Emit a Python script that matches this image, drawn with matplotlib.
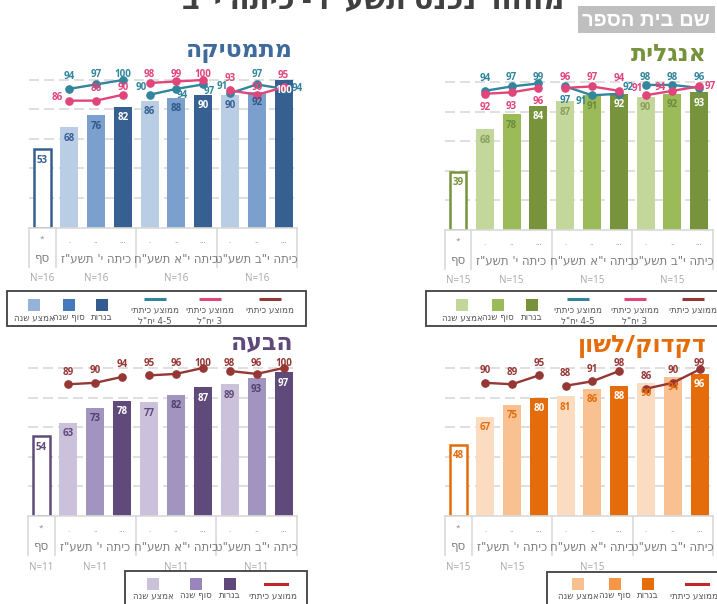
import re
import matplotlib
matplotlib.use('Agg')
import matplotlib.pyplot as plt
from matplotlib.patches import Rectangle

plt.rcParams['font.family'] = ['Open Sans', 'DejaVu Sans']
HEB = ['DejaVu Sans']

W, H = 717, 604

# ---------------- data ----------------
page_title = 'מחזור נכנס תשע"ז - כיתה י"ב'
school_name = 'שם בית הספר'
categories = ['סף', 'כיתה י\' תשע"ז', 'כיתה י"א תשע"ח', 'כיתה י"ב תשע"ט']
sub_marks = ['*', '.', '..', '...', '.', '..', '...', '.', '..', '...']
bar_legend = ['אמצע שנה', 'סוף שנה', 'בנרות']
line_legend_45 = 'ממוצע כיתתי\n4-5 יח"ל'
line_legend_3 = 'ממוצע כיתתי\n3 יח"ל'
line_legend_all = 'ממוצע כיתתי'

math_title = 'מתמטיקה'
math_bars = [53, 68, 76, 82, 86, 88, 90, 90, 92, 100]
math_avg_45 = [94, 97, 100, 90, 94, 97, 91, 97, 94]
math_avg_3 = [86, 86, 90, 98, 99, 100, 93, 90, 95]
math_n = ['N=16', 'N=16', 'N=16', 'N=16']

eng_title = 'אנגלית'
eng_bars = [39, 68, 78, 84, 87, 91, 92, 90, 92, 93]
eng_avg_45 = [94, 97, 99, 97, 91, 92, 98, 98, 96]
eng_avg_3 = [92, 93, 96, 96, 97, 94, 91, 94, 97]
eng_n = ['N=15', 'N=15', 'N=15', 'N=15']

expr_title = 'הבעה'
expr_bars = [54, 63, 73, 78, 77, 82, 87, 89, 93, 97]
expr_avg = [89, 90, 94, 95, 96, 100, 98, 96, 100]
expr_n = ['N=11', 'N=11', 'N=11', 'N=11']

gram_title = 'דקדוק/לשון'
gram_bars = [48, 67, 75, 80, 81, 86, 88, 90, 94, 96]
gram_avg = [90, 89, 95, 88, 91, 98, 86, 90, 99]
gram_n = ['N=15', 'N=15', 'N=15']


# ---------------- helpers ----------------
def rtl(s):
    out = []
    for line in s.split('\n'):
        r = line[::-1]
        r = re.sub(r'[0-9A-Za-z][0-9A-Za-z\-=.]*[0-9A-Za-z]|[0-9A-Za-z]',
                   lambda m: m.group(0)[::-1], r)
        out.append(r)
    return '\n'.join(out)


fig = plt.figure(figsize=(W / 100, H / 100), dpi=100)
fig.patch.set_facecolor('white')

ov = fig.add_axes([0, 0, 1, 1], zorder=5)
ov.set_xlim(0, W)
ov.set_ylim(H, 0)
ov.axis('off')
ov.patch.set_visible(False)


def px_axes(l, t, r, b, **kw):
    return fig.add_axes([l / W, 1 - b / H, (r - l) / W, (b - t) / H], **kw)


OFF = {'a': (0, 12), 'a2': (0, 7), 'b': (0, -14), 'l': (-12, 3),
       'r': (14, 0), 'r2': (11, 0),
       'la': (-8, 7), 'lb': (-11, -6), 'rb': (6, -7), 'ra': (9, 6)}

GRID = '#d9d9d9'
BAR_W = 0.67
YTOP = 116


def panel(xl, xr, base, s, bars, bar_cols, outline_col, txt_cols,
          lines, n_labels):
    ax = px_axes(xl, base - YTOP * s, xr, base)
    ax.patch.set_visible(False)
    ax.set_xlim(-0.5, 9.5)
    ax.set_ylim(0, YTOP)
    ax.set_yticks([20, 40, 60, 80, 100])
    ax.set_xticks([])
    ax.yaxis.grid(True, linestyle=(0, (6, 3)), color=GRID, lw=1.2)
    ax.set_axisbelow(True)
    ax.tick_params(left=False, labelleft=False, bottom=False)
    for sp in ['top', 'left', 'right']:
        ax.spines[sp].set_visible(False)
    ax.spines['bottom'].set_color(GRID)
    ax.spines['bottom'].set_linewidth(1.2)
    pxu = (xr - xl) / 10.0
    # bars
    for i, v in enumerate(bars):
        if i == 0:
            ax.bar(i, v, width=BAR_W - 0.06, facecolor='white',
                   edgecolor=outline_col, lw=1.8, zorder=2)
            tc = outline_col
        else:
            k = (i - 1) % 3
            ax.bar(i, v, width=BAR_W, color=bar_cols[k], zorder=2)
            tc = txt_cols[k]
        ax.text(i, v - 11 / s, str(v), ha='center', va='center',
                fontsize=7, fontweight='bold', color=tc, zorder=4)
    # lines
    for vals, col, pos in lines:
        for g in range(3):
            xs = [1 + 3 * g + j for j in range(3)]
            ys = vals[3 * g:3 * g + 3]
            ax.plot(xs, ys, color=col, lw=1.7, marker='o', ms=5.2,
                    zorder=3, solid_capstyle='round')
            for x, y, p in zip(xs, ys, pos[3 * g:3 * g + 3]):
                dx, dy = OFF[p]
                ly = y + dy / s
                if p == 'a':
                    ly = min(ly, 100 + 5 / s)
                ax.text(x + dx / pxu, ly, str(y), ha='center', va='center',
                        fontsize=7, fontweight='bold', color=col, zorder=4)
    # table under axis
    tb = px_axes(xl, base, xr, base + 39)
    tb.set_xlim(-0.5, 9.5)
    tb.set_ylim(39, 0)
    tb.axis('off')
    for xv in [-0.5, 0.5, 3.5, 6.5, 9.5]:
        tb.plot([xv, xv], [0, 39], color=GRID, lw=1.2, clip_on=False)
    for i, m in enumerate(sub_marks):
        tb.text(i, 12 if m == '*' else 14, m, ha='center', va='center',
                fontsize=6, color='#8c8c8c')
    cat_x = [0, 2, 5, 8]
    for cx, c in zip(cat_x, categories):
        tb.text(cx, 31, rtl(c), ha='center', va='center', fontsize=8.5,
                color='#7f7f7f', family=HEB)
    for cx, n in zip(cat_x, n_labels):
        tb.text(cx, 51, n, ha='center', va='center', fontsize=7,
                color='#a6a6a6', clip_on=False)
    return ax


def legend(left, top, w, h, sq_x, sq_cols, line_items, sq_y, lab_y):
    ov.add_patch(Rectangle((left, top), w, h, facecolor='white',
                           edgecolor='#404040', lw=1.3))
    for x, c, lab in zip(sq_x, sq_cols, bar_legend):
        ov.add_patch(Rectangle((x - 6, sq_y - 6), 12, 12, color=c, lw=0))
        ov.text(x, lab_y, rtl(lab), ha='center', va='center', fontsize=6.3,
                color='#595959', family=HEB)
    for x, c, lab in line_items:
        ov.plot([x - 11, x + 11], [sq_y - 6, sq_y - 6], color=c, lw=2.2,
                solid_capstyle='butt')
        ov.text(x, sq_y + 0.5, rtl(lab), ha='center', va='top', fontsize=6.3,
                color='#595959', linespacing=1.35, family=HEB)


TEAL = '#31859c'
PINK = '#e0457b'
RED = '#953735'
RED_L = '#c0272d'

# ---------- header ----------
ov.text(373, 8, rtl(page_title), ha='center', va='baseline', fontsize=21,
        fontweight='bold', color='#404040')
ov.add_patch(Rectangle((578, 6), 137, 27, color='#bfbfbf', lw=0))
ov.text(646, 20, rtl(school_name), ha='center', va='center', fontsize=14.5,
        fontweight='bold', color='white',
        family=['Liberation Sans', 'DejaVu Sans'])

# ---------- math ----------
ov.text(293, 51, rtl(math_title), ha='right', va='center', fontsize=17,
        fontweight='bold', color='#3f6a9c')
panel(29, 297, 227.5, 1.475, math_bars,
      ['#b9cde5', '#7ba0cd', '#376092'], '#376092',
      ['#376092', '#2f5a8a', 'white'],
      [(math_avg_45, TEAL, ['a', 'a', 'a', 'la', 'rb', 'rb', 'la', 'a', 'r']),
       (math_avg_3, PINK, ['l', 'a', 'a2', 'a', 'a', 'a', 'a', 'a2', 'a'])],
      math_n)
legend(7, 291, 299, 35, [34, 69, 102], ['#95b3d7', '#4479bb', '#325d8e'],
       [(155, TEAL, line_legend_45), (210, PINK, line_legend_3),
        (270, RED, line_legend_all)], 305, 318)

# ---------- english ----------
ov.text(707, 55, rtl(eng_title), ha='right', va='center', fontsize=17,
        fontweight='bold', color='#76923c')
panel(444.6, 712.6, 229.5, 1.475, eng_bars,
      ['#c4d79b', '#9bbb59', '#77933c'], '#77933c',
      ['#8aa05a', '#6f8a3a', 'white'],
      [(eng_avg_45, TEAL, ['a', 'a', 'a', 'b', 'lb', 'ra', 'a', 'a', 'a']),
       (eng_avg_3, PINK, ['b', 'b', 'b', 'a', 'a', 'a', 'la', 'l', 'r2'])],
      eng_n)
legend(426, 291, 300, 35, [462, 498, 532], ['#c4d79b', '#9bbb59', '#76923c'],
       [(578, TEAL, line_legend_45), (635, PINK, line_legend_3),
        (693, RED, line_legend_all)], 305, 318)

# ---------- expression ----------
ov.text(293, 343, rtl(expr_title), ha='right', va='center', fontsize=17,
        fontweight='bold', color='#5f497a')
panel(28, 297, 516, 1.48, expr_bars,
      ['#ccc1da', '#a294c0', '#604a7b'], '#604a7b',
      ['#604a7b', '#54406d', 'white'],
      [(expr_avg, RED, ['a'] * 9)], expr_n)
legend(125, 571, 182, 40, [153, 196, 230], ['#ccc1da', '#9a84bc', '#5f497a'],
       [], 584, 596)
ov.plot([265, 287], [584, 584], color=RED_L, lw=2.2)
ov.text(273, 596, rtl(line_legend_all), ha='center', va='center',
        fontsize=6.3, color='#595959', family=HEB)

# ---------- grammar ----------
ov.text(707, 346, rtl(gram_title), ha='right', va='center', fontsize=17,
        fontweight='bold', color='#e46c0a')
panel(445, 713, 516, 1.48, gram_bars,
      ['#fcdcc0', '#f9c091', '#e46c0a'], '#e46c0a',
      ['#e46c0a', '#e46c0a', 'white'],
      [(gram_avg, RED, ['a'] * 9)], gram_n)
legend(547, 572, 182, 40, [578, 615, 648], ['#fac090', '#f79646', '#e46c0a'],
       [], 584, 596)
ov.plot([686, 708], [584, 584], color=RED_L, lw=2.2)
ov.text(694, 596, rtl(line_legend_all), ha='center', va='center',
        fontsize=6.3, color='#595959', family=HEB)

fig.savefig('out.png', dpi=100)
